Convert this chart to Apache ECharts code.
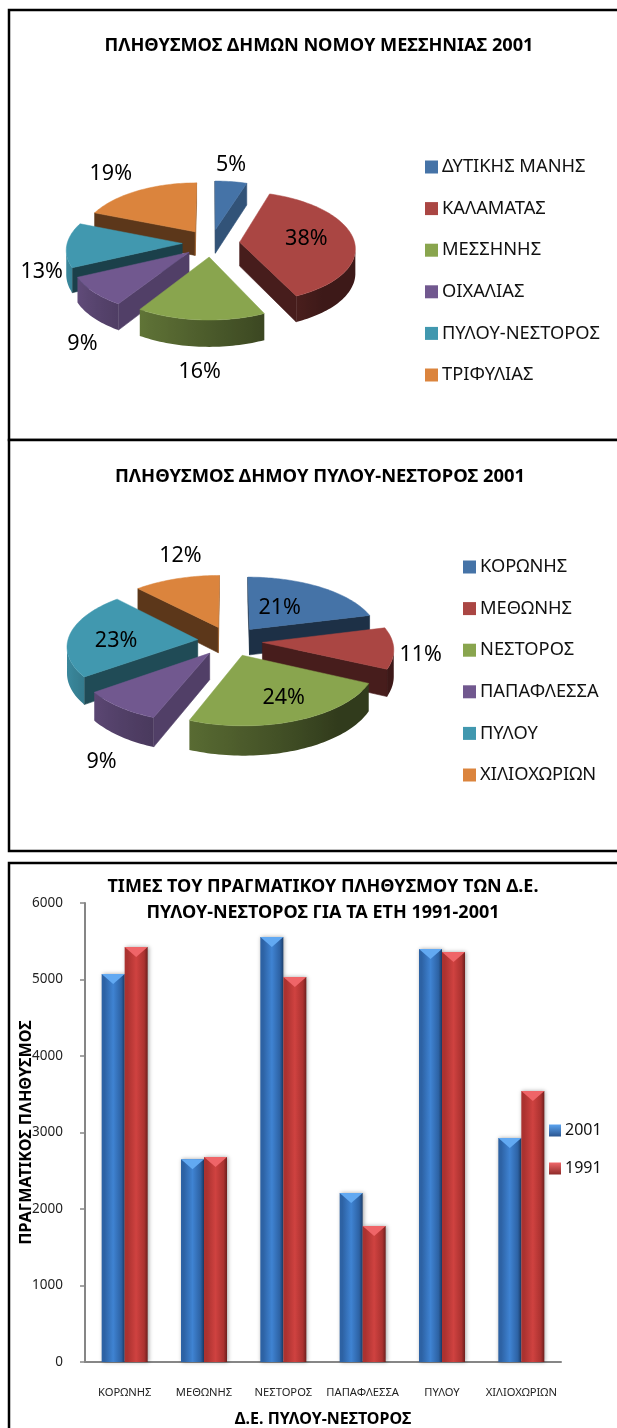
<!DOCTYPE html>
<html><head><meta charset="utf-8">
<style>html,body{margin:0;padding:0;background:#fff}#c{width:617px;height:1428px}</style>
<script src="https://cdn.jsdelivr.net/npm/echarts@6/dist/echarts.min.js"></script>
</head><body><div id="c"></div>
<script>
// ---- data ----
const titlePrefecture = 'ΠΛΗΘΥΣΜΟΣ ΔΗΜΩΝ ΝΟΜΟΥ ΜΕΣΣΗΝΙΑΣ 2001';
const prefectureCategories = ['ΔΥΤΙΚΗΣ ΜΑΝΗΣ','ΚΑΛΑΜΑΤΑΣ','ΜΕΣΣΗΝΗΣ','ΟΙΧΑΛΙΑΣ','ΠΥΛΟΥ-ΝΕΣΤΟΡΟΣ','ΤΡΙΦΥΛΙΑΣ'];
const prefectureValues = [5,38,16,9,13,19];
const titleMunicipality = 'ΠΛΗΘΥΣΜΟΣ ΔΗΜΟΥ ΠΥΛΟΥ-ΝΕΣΤΟΡΟΣ 2001';
const municipalityCategories = ['ΚΟΡΩΝΗΣ','ΜΕΘΩΝΗΣ','ΝΕΣΤΟΡΟΣ','ΠΑΠΑΦΛΕΣΣΑ','ΠΥΛΟΥ','ΧΙΛΙΟΧΩΡΙΩΝ'];
const municipalityValues = [21,11,24,9,23,12];
const titleBars = 'ΤΙΜΕΣ ΤΟΥ ΠΡΑΓΜΑΤΙΚΟΥ ΠΛΗΘΥΣΜΟΥ ΤΩΝ Δ.Ε.\nΠΥΛΟΥ-ΝΕΣΤΟΡΟΣ ΓΙΑ ΤΑ ΕΤΗ 1991-2001';
const barCategories = municipalityCategories;
const values2001 = [5072,2650,5555,2209,5400,2928];
const values1991 = [5425,2680,5033,1778,5360,3543];
const xAxisName = 'Δ.Ε. ΠΥΛΟΥ-ΝΕΣΤΟΡΟΣ';
const yAxisName = 'ΠΡΑΓΜΑΤΙΚΟΣ ΠΛΗΘΥΣΜΟΣ';

// ---- style & layout ----
const FONT = '"Noto Sans", sans-serif';
const sliceColors = ['#4573a7','#aa4643','#89a54e','#71588f','#4198af','#db843d'];
const pieLayouts = [
  {cx:211, cy:243, rx:115, ry:55, kx:.1, ky:.086, depth:24, explode:.25,
   labelOffsets:[[0,-17],[-47,0],[-1,52],[-11,52],[-25,27],[-27,-17]]},
  {cx:230, cy:641, rx:130, ry:60, kx:.1, ky:.104, depth:26, explode:.25,
   labelOffsets:[[-41,21],[27,7],[-14,-22],[-18,55],[46,7],[4,-23]]}
];

function shade(hex, f){
  const n = parseInt(hex.slice(1),16);
  const c = [n>>16&255,n>>8&255,n&255].map(v=>Math.round(v*f));
  return 'rgb('+c.join(',')+')';
}
function radialWallShade(normalDeg){
  const a = ((normalDeg%360)+360)%360;
  if (a<=125) return .72;
  if (a>=150) return .42;
  return .72-(a-125)/25*.3;
}
function arcWallShade(deg){
  const a = ((deg%360)+360)%360;
  if (a<=140) return .36;
  if (a>=250) return .88;
  return .36+(a-140)/110*.52;
}
// One exploded, tilted slice: geometry is derived entirely from the values.
function sliceShapes(values, idx, L, color, label){
  const total = values.reduce((a,b)=>a+b,0);
  let acc = 0; for(let i=0;i<idx;i++) acc += values[i];
  const t0 = acc/total*2*Math.PI, t1 = (acc+values[idx])/total*2*Math.PI, mid=(t0+t1)/2;
  const ex = L.explode*Math.sin(mid), ey = -L.explode*Math.cos(mid);
  const proj = (x,y,down)=>{
    const sx = 1/(1-L.kx*y), sy = 1/(1-L.ky*y);
    return [L.cx+L.rx*x*sx, L.cy+L.ry*y*sy+(down?L.depth*sy:0)];
  };
  const rim = (t,down)=>proj(ex+Math.sin(t),ey-Math.cos(t),down);
  const steps = Math.max(8,Math.ceil((t1-t0)/(Math.PI/120)));
  const ts = []; for(let i=0;i<=steps;i++) ts.push(t0+(t1-t0)*i/steps);
  const apex = proj(ex,ey,false), apexD = proj(ex,ey,true);
  const children = [];
  const quad = (a,b,c,d,fill,z)=>children.push({type:'polygon',z2:z,
    shape:{points:[a,b,c,d]},style:{fill,stroke:fill,lineWidth:.6}});
  const addRadial = (p,pd,q,qd,normal)=>{
    if (q[0]-p[0] < -.01) quad(p,q,qd,pd,shade(color,radialWallShade(normal)),1);
  };
  addRadial(apex,apexD,rim(t0),rim(t0,true),t0*180/Math.PI-90);
  addRadial(rim(t1),rim(t1,true),apex,apexD,t1*180/Math.PI+90);
  // outer curved wall: the part of the rim facing the viewer, shaded left-to-right
  const vis = [];
  for(let i=0;i<=steps;i++){
    const prev = rim(ts[Math.max(i-1,0)]), next = rim(ts[Math.min(i+1,steps)]);
    if (next[0]-prev[0] < 0) vis.push(ts[i]);
  }
  if (vis.length>1){
    const tops = vis.map(t=>rim(t)), bots = vis.map(t=>rim(t,true)).reverse();
    const xs = tops.map(p=>p[0]), minX=Math.min(...xs), maxX=Math.max(...xs), w=(maxX-minX)||1;
    const stops = vis.map((t,i)=>({offset:(tops[i][0]-minX)/w,color:shade(color,arcWallShade(t*180/Math.PI))}))
      .sort((a,b)=>a.offset-b.offset);
    const fill = {type:'linear',x:0,y:0,x2:1,y2:0,colorStops:stops};
    children.push({type:'polygon',z2:2,shape:{points:tops.concat(bots)},style:{fill}});
  }
  const top=[apex].concat(ts.map(t=>rim(t)));
  children.push({type:'polygon',z2:3,shape:{points:top},style:{fill:color,stroke:color,lineWidth:.5}});
  const anchor = rim(mid), off = L.labelOffsets[idx];
  children.push({type:'text',z2:4,style:{text:label,x:anchor[0]+off[0],y:anchor[1]+off[1],
    fill:'#000',font:'400 21.5px '+FONT,align:'center',verticalAlign:'middle'}});
  return {type:'group',children};
}
function pieSeries(cats, values, L){
  const total = values.reduce((a,b)=>a+b,0);
  let acc=0;
  return cats.map((name,i)=>{
    const mid=(acc+values[i]/2)/total*2*Math.PI; acc+=values[i];
    return {type:'custom',name,coordinateSystem:'none',silent:true,
      itemStyle:{color:sliceColors[i]},z:2,animation:false,
      data:[[values[i]]],
      _order:-Math.cos(mid),
      renderItem:()=>sliceShapes(values,i,L,sliceColors[i],Math.round(values[i]/total*100)+'%')};
  });
}
function legendFor(cats, left, top){
  return {show:true,orient:'vertical',left,top,padding:0,itemWidth:13,itemHeight:13,itemGap:23.6,
    icon:'rect',selectedMode:false,data:cats,
    textStyle:{fontFamily:FONT,fontSize:18.3,color:'#111',padding:[0,0,0,-1],lineHeight:18}};
}
function vGrad(a,b){return {type:'linear',x:0,y:0,x2:0,y2:1,colorStops:[{offset:0,color:a},{offset:1,color:b}]};}
function barGrad(edgeL,mid,edgeR){return {type:'linear',x:0,y:0,x2:1,y2:0,colorStops:[
  {offset:0,color:edgeL},{offset:.12,color:edgeL},{offset:.5,color:mid},{offset:.85,color:edgeL},{offset:1,color:edgeR}]};}

const BAR_W = 23;
function chevronSeries(values, side, fill){
  return {type:'custom',coordinateSystem:'cartesian2d',silent:true,z:5,animation:false,
    data:values.map((v,i)=>[i,v]),
    renderItem:(p,api)=>{
      const c=api.coord([api.value(0),api.value(1)]);
      const x0=side<0?c[0]-BAR_W:c[0], x1=side<0?c[0]:c[0]+BAR_W, y=c[1];
      return {type:'polygon',shape:{points:[[x0,y],[x1,y],[(x0+x1)/2,y+10]]},style:{fill}};
    }};
}

const slices1 = pieSeries(prefectureCategories,prefectureValues,pieLayouts[0]);
const slices2 = pieSeries(municipalityCategories,municipalityValues,pieLayouts[1]);
const ordered = a=>a.slice().sort((p,q)=>p._order-q._order);

const titleStyle = {fontFamily:FONT,fontWeight:'bold',fontSize:18.2,color:'#000',lineHeight:26};
const frame = (y,h)=>({type:'rect',z:0,shape:{x:9,y,width:640,height:h},style:{fill:'#fff',stroke:'#000',lineWidth:2.5}});

const option = {
  animation:false,
  backgroundColor:'#fff',
  graphic:{elements:[frame(10,430),frame(440,411),frame(863,600)]},
  title:[
    {text:titlePrefecture,left:319,top:33,padding:0,textAlign:'center',textStyle:titleStyle},
    {text:titleMunicipality,left:320,top:464,padding:0,textAlign:'center',textStyle:{...titleStyle,fontSize:18.4}},
    {text:titleBars,left:323,top:874,padding:0,textAlign:'center',textStyle:{...titleStyle,fontSize:18}}
  ],
  legend:[
    legendFor(prefectureCategories,425,158),
    legendFor(municipalityCategories,463,558),
    {show:true,orient:'vertical',left:549,top:1122,padding:0,itemWidth:12,itemHeight:12,itemGap:21,selectedMode:false,icon:'rect',
     data:[{name:'2001',itemStyle:{color:vGrad('#5ba3ef','#2a5590')}},{name:'1991',itemStyle:{color:vGrad('#f0676a','#8e2a28')}}],
     textStyle:{fontFamily:FONT,fontSize:16,color:'#111',padding:[0,0,0,-1],lineHeight:17}}
  ],
  grid:{left:85,top:903,width:476,height:459,containLabel:false,outerBoundsMode:'none'},
  xAxis:{type:'category',data:barCategories,
    axisLine:{lineStyle:{color:'#868686',width:2}},
    axisTick:{length:5,lineStyle:{color:'#868686',width:1.5},alignWithLabel:false},
    axisLabel:{fontFamily:FONT,fontSize:11.2,color:'#222',margin:25,interval:0},
    name:xAxisName,nameLocation:'middle',nameGap:49,nameMoveOverlap:false,
    nameTextStyle:{fontFamily:FONT,fontWeight:'bold',fontSize:16,color:'#000'}},
  yAxis:{type:'value',min:0,max:6000,interval:1000,splitLine:{show:false},
    axisLine:{show:true,lineStyle:{color:'#868686',width:2}},
    axisTick:{show:true,length:5,lineStyle:{color:'#868686',width:1.5}},
    axisLabel:{fontFamily:FONT,fontSize:13.5,color:'#222',margin:22,formatter:v=>String(v)},
    name:yAxisName,nameLocation:'middle',nameGap:51,nameRotate:90,nameMoveOverlap:false,
    nameTextStyle:{fontFamily:FONT,fontWeight:'bold',fontSize:16.2,color:'#000'}},
  series:[
    ...ordered(slices1),
    ...ordered(slices2),
    {type:'bar',name:'2001',data:values2001,barWidth:BAR_W,barGap:0,z:3,
     itemStyle:{color:barGrad('#2d62a4','#3f83d2','#1d3f6c'),shadowColor:'rgba(0,0,0,.35)',shadowBlur:4,shadowOffsetX:1}},
    {type:'bar',name:'1991',data:values1991,barWidth:BAR_W,z:3,
     itemStyle:{color:barGrad('#ab3230','#cf4240','#6e1f1d'),shadowColor:'rgba(0,0,0,.35)',shadowBlur:4,shadowOffsetX:1}},
    chevronSeries(values2001,-1,'#62a9f2'),
    chevronSeries(values1991,1,'#ef6568')
  ]
};
const chart = echarts.init(document.getElementById('c'),null,{renderer:'canvas',width:617,height:1428});
chart.setOption(option);
</script></body></html>
